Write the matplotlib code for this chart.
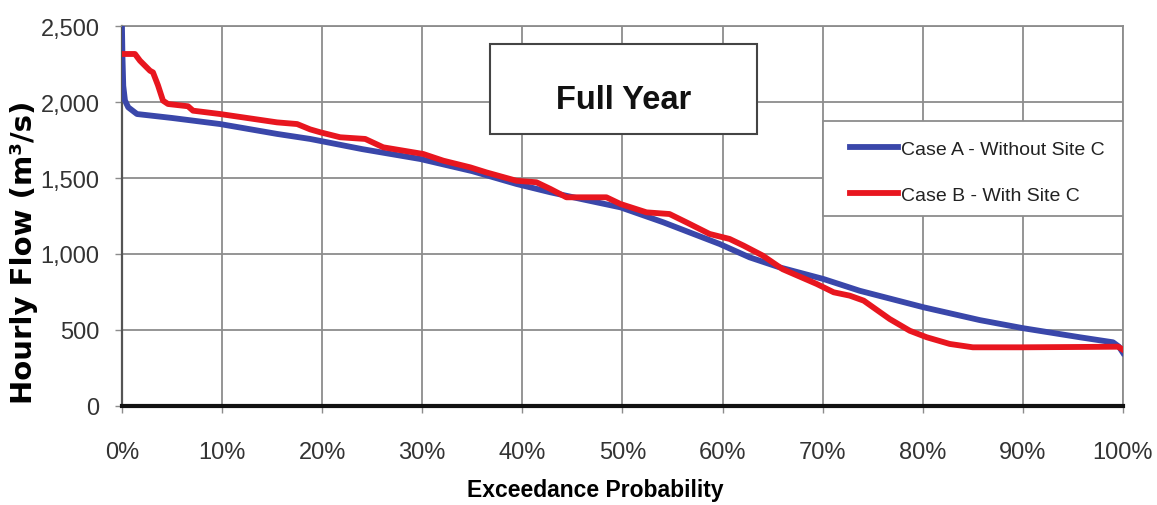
import matplotlib
matplotlib.use("Agg")
import matplotlib.pyplot as plt
from matplotlib.patches import Rectangle
from matplotlib.ticker import FuncFormatter

# ---- data ----
case_a_x = [0, 0.05, 0.13, 0.3, 0.63, 1.5, 5, 9.8, 15.5, 18.8, 24, 29.8, 35, 39.4,
            42.8, 46, 49.8, 54.1, 59.7, 62.7, 65.7, 70.1, 73.7, 80.1, 85.7, 90,
            95.7, 99, 99.6, 100]
case_a_y = [2500, 2300, 2107, 2010, 1965, 1921, 1895, 1855, 1790, 1757, 1690, 1625,
            1545, 1461, 1406, 1360, 1307, 1208, 1066, 978, 912, 835, 758, 649, 565,
            512, 452, 419, 390, 350]

case_b_x = [0, 1.3, 1.8, 2.8, 3.1, 3.6, 4.1, 4.6, 6.6, 7.1, 9.8, 15.5, 17.5, 18.8,
            19.8, 21.8, 24.3, 26.1, 30.1, 32.1, 34.8, 36.4, 39.4, 41.4, 42.8, 44.4,
            48.4, 49.8, 52.4, 54.7, 56.4, 58.7, 60.7, 62.1, 64, 66, 69.4, 71.1, 72.7,
            74.1, 76.7, 78.7, 80.4, 82.7, 85, 90, 95, 99.5, 100]
case_b_y = [2316, 2316, 2272, 2206, 2195, 2110, 2009, 1987, 1972, 1943, 1921, 1866,
            1855, 1820, 1801, 1768, 1757, 1702, 1658, 1614, 1570, 1537, 1482, 1472,
            1428, 1373, 1373, 1329, 1274, 1263, 1208, 1132, 1099, 1055, 990, 900,
            803, 748, 726, 693, 572, 495, 452, 408, 386, 386, 388, 390, 370]

labels = ["Case A - Without Site C", "Case B - With Site C"]
title_text = "Full Year"
x_label = "Exceedance Probability"
y_label = "Hourly Flow (m\u00b3/s)"
y_ticks = [0, 500, 1000, 1500, 2000, 2500]
x_ticks = [0, 10, 20, 30, 40, 50, 60, 70, 80, 90, 100]

font = "Liberation Sans"

fig = plt.figure(figsize=(11.57, 5.06), dpi=100)
ax = fig.add_axes([0.1054, 0.1957, 0.8652, 0.7509])

blue = "#3a47aa"
red = "#e8161f"
ax.plot(case_a_x, case_a_y, color=blue, lw=4.2, label=labels[0], zorder=3)
ax.plot(case_b_x, case_b_y, color=red, lw=4.2, label=labels[1], zorder=4)

ax.set_xlim(0, 100)
ax.set_ylim(0, 2500)
ax.set_xticks(x_ticks)
ax.set_yticks(y_ticks)
ax.xaxis.set_major_formatter(FuncFormatter(lambda v, p: f"{int(v)}%"))
ax.yaxis.set_major_formatter(FuncFormatter(lambda v, p: f"{int(v):,}"))

ax.grid(True, color="#8c8c8c", lw=1.3, zorder=0)
ax.set_axisbelow(True)
for s in ["top", "right"]:
    ax.spines[s].set_color("#8c8c8c")
    ax.spines[s].set_linewidth(1.3)
ax.spines["left"].set_color("#555555")
ax.spines["left"].set_linewidth(1.6)
ax.spines["bottom"].set_color("#111111")
ax.spines["bottom"].set_linewidth(3)

ax.tick_params(axis="both", direction="out", length=5, width=1, color="#8c8c8c",
               labelcolor="#333333")
ax.tick_params(axis="y", pad=11)
ax.tick_params(axis="x", pad=20)
for t in ax.get_xticklabels() + ax.get_yticklabels():
    t.set_fontfamily(font)
    t.set_fontsize(17)

ax.set_xlabel(x_label, fontfamily=font, fontweight="bold", fontsize=16.5)
ax.xaxis.set_label_coords(0.4725, -0.22)
ax.set_ylabel(y_label, fontfamily="DejaVu Sans", fontweight="bold", fontsize=21)
ax.yaxis.set_label_coords(-0.098, 0.408)
ax.yaxis.label.set_va("center")
ax.xaxis.label.set_va("center")

# title box
ax.add_patch(Rectangle((0.3676, 0.716), 0.2667, 0.237, transform=ax.transAxes,
                       facecolor="white", edgecolor="#444444", lw=1.5, zorder=5))
ax.text(0.501, 0.783, title_text, transform=ax.transAxes, ha="center", va="baseline",
        fontfamily=font, fontweight="bold", fontsize=23.5, color="#111111", zorder=6)

# legend box
ax.add_patch(Rectangle((0.7003, 0.5), 0.2997, 0.25, transform=ax.transAxes,
                       facecolor="white", edgecolor="#8c8c8c", lw=1.3, zorder=5))
leg = ax.legend(loc="upper left", bbox_to_anchor=(0.7273, 0.700), borderaxespad=0,
                prop={"family": font, "size": 14}, frameon=False,
                handlelength=2.45, handletextpad=0.15,
                labelspacing=1.46, borderpad=0)
leg.set_zorder(6)
for t in leg.get_texts():
    t.set_color("#222222")

fig.savefig("out.png", dpi=100)
